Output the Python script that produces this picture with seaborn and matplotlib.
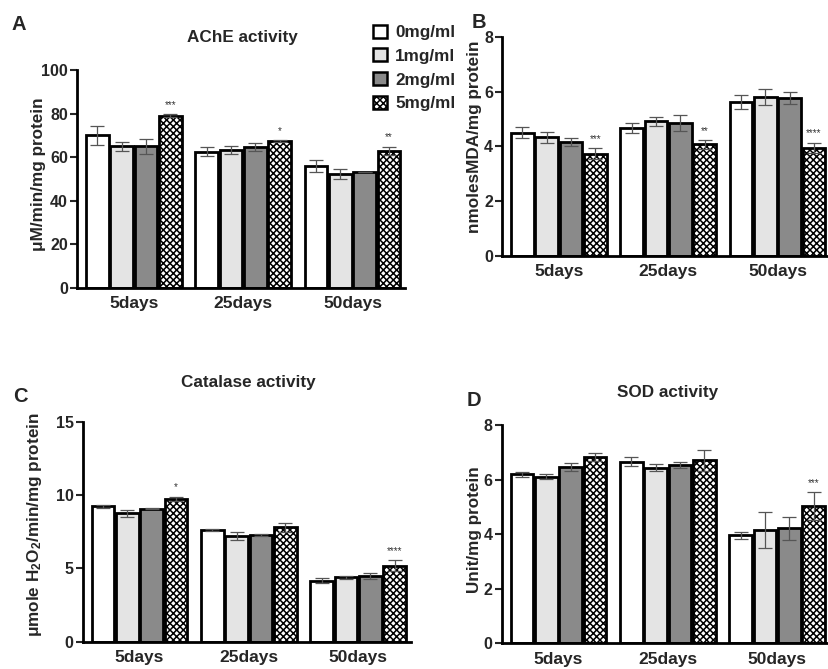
import numpy as np
import pandas as pd
import matplotlib
matplotlib.use("Agg")
import matplotlib.pyplot as plt
from matplotlib.patches import Patch
from matplotlib.container import BarContainer
import seaborn as sns

# ---------------- data ----------------
times = ["5days", "25days", "50days"]
doses = ["0mg/ml", "1mg/ml", "2mg/ml", "5mg/ml"]

# values[dose][time]
ache_mean = [[70.0, 62.6, 56.0], [65.0, 63.3, 52.3], [65.0, 64.7, 53.0], [79.0, 67.6, 63.0]]
ache_sd = [[4.5, 2.0, 2.8], [2.0, 2.0, 2.5], [3.4, 2.0, 0.0], [0.7, 0.4, 1.8]]
ache_sig = ["***", "*", "**"]

mda_mean = [[4.50, 4.67, 5.63], [4.33, 4.92, 5.80], [4.16, 4.85, 5.75], [3.73, 4.07, 3.94]]
mda_sd = [[0.20, 0.20, 0.25], [0.20, 0.16, 0.30], [0.15, 0.30, 0.22], [0.20, 0.16, 0.20]]
mda_sig = ["***", "**", "****"]

cat_mean = [[9.25, 7.59, 4.16], [8.75, 7.23, 4.39], [9.07, 7.27, 4.48], [9.75, 7.80, 5.18]]
cat_sd = [[0.10, 0.07, 0.15], [0.25, 0.27, 0.10], [0.05, 0.07, 0.22], [0.14, 0.30, 0.37]]
cat_sig = ["*", "", "****"]

sod_mean = [[6.20, 6.65, 3.96], [6.11, 6.43, 4.15], [6.46, 6.53, 4.21], [6.84, 6.70, 5.03]]
sod_sd = [[0.09, 0.16, 0.13], [0.08, 0.13, 0.65], [0.15, 0.12, 0.42], [0.15, 0.37, 0.51]]
sod_sig = ["", "", "***"]

ache_ticks = [0, 20, 40, 60, 80, 100]
mda_ticks = [0, 2, 4, 6, 8]
cat_ticks = [0, 5, 10, 15]
sod_ticks = [0, 2, 4, 6, 8]

# ---------------- style ----------------
sns.set_theme(style="ticks")
plt.rcParams["font.family"] = ["Liberation Sans", "DejaVu Sans"]
plt.rcParams["font.weight"] = "bold"
plt.rcParams["mathtext.fontset"] = "custom"
plt.rcParams["mathtext.rm"] = "Liberation Sans:bold"
plt.rcParams["mathtext.it"] = "Liberation Sans:bold"
plt.rcParams["mathtext.bf"] = "Liberation Sans:bold"
plt.rcParams["mathtext.default"] = "rm"
plt.rcParams["hatch.linewidth"] = 1.1

faces = ["#ffffff", "#e4e4e4", "#8a8a8a", "#ffffff"]
hatches = [None, None, None, "xxxxx"]

W, H = 829, 669
fig = plt.figure(figsize=(W / 100, H / 100), dpi=100)

LABEL_FS = 12.3


def px_axes(left, top, right, bottom):
    return fig.add_axes([left / W, 1 - bottom / H, (right - left) / W, (bottom - top) / H])


def panel(ax, mean, sd, sig, ticks, ylabel, lab_x, lab_y, title=None, title_y=1.15):
    rows = []
    for di, d in enumerate(doses):
        for ti, t in enumerate(times):
            rows.append({"time": t, "dose": d, "value": mean[di][ti]})
    df = pd.DataFrame(rows)
    sns.barplot(data=df, x="time", y="value", hue="dose", order=times, hue_order=doses,
                errorbar=None, width=0.89, gap=0.06, palette=faces, legend=False,
                edgecolor="black", linewidth=2.0, saturation=1, ax=ax, zorder=2)
    bar_conts = [c for c in ax.containers if isinstance(c, BarContainer)]
    for di, cont in enumerate(bar_conts):
        xs, ys, es = [], [], []
        for ti, bar in enumerate(cont.patches):
            bar.set_facecolor(faces[di])
            bar.set_edgecolor("black")
            if hatches[di]:
                bar.set_hatch(hatches[di])
            xs.append(bar.get_x() + bar.get_width() / 2)
            ys.append(bar.get_height())
            es.append(sd[di][ti])
        ax.errorbar(xs, ys, yerr=es, fmt="none", ecolor="#555555", elinewidth=0.9,
                    capsize=5, capthick=0.9, zorder=4)
        if di == 3:
            for ti in range(3):
                if sig[ti]:
                    ax.annotate(sig[ti], (xs[ti], ys[ti] + es[ti]), xytext=(0, 3),
                                textcoords="offset points", ha="center", va="bottom",
                                fontsize=7, fontweight="normal", color="#333333")
    ax.set_xlim(-0.52, 2.48)
    ax.set_ylim(ticks[0], ticks[-1])
    ax.set_yticks(ticks)
    ax.set_yticklabels([str(t) for t in ticks], fontsize=11.5, fontweight="bold")
    ax.set_xticks(range(3))
    ax.set_xticklabels(times, fontsize=12.5, fontweight="bold")
    ax.tick_params(axis="x", length=0, pad=6)
    ax.tick_params(axis="y", length=5, width=1.5, pad=1.5)
    ax.set_xlabel("")
    ax.set_ylabel(ylabel, fontsize=LABEL_FS, fontweight="bold")
    ax.yaxis.set_label_coords(lab_x, lab_y)
    for s in ["top", "right"]:
        ax.spines[s].set_visible(False)
    for s in ["left", "bottom"]:
        ax.spines[s].set_linewidth(2.0)
        ax.spines[s].set_color("black")
    if title:
        ax.text(0.505, title_y, title, transform=ax.transAxes, ha="center", va="center",
                fontsize=LABEL_FS, fontweight="bold")


axA = px_axes(77, 70, 405, 288)
panel(axA, ache_mean, ache_sd, ache_sig, ache_ticks, "μM/min/mg protein", -0.095, 0.52,
      "AChE activity", 1.147)

axB = px_axes(502, 36.7, 830, 256)
panel(axB, mda_mean, mda_sd, mda_sig, mda_ticks, "nmolesMDA/mg protein", -0.062, 0.545)

axC = px_axes(82.7, 421.7, 410.7, 641.7)
panel(axC, cat_mean, cat_sd, cat_sig, cat_ticks, "μmole H$_2$O$_2$/min/mg protein", -0.118, 0.53,
      "Catalase activity", 1.176)

axD = px_axes(501.7, 425, 829.7, 643.3)
panel(axD, sod_mean, sod_sd, sod_sig, sod_ticks, "Unit/mg protein", -0.06, 0.52,
      "SOD activity", 1.147)

for letter, x, y in [("A", 19, 25), ("B", 479, 23), ("C", 20, 397), ("D", 474, 400)]:
    fig.text(x / W, 1 - y / H, letter, ha="center", va="center", fontsize=14.5, fontweight="bold")

handles = [Patch(facecolor=faces[i], edgecolor="black", hatch=hatches[i], linewidth=1.8)
           for i in range(4)]
fig.legend(handles, doses, loc="center left", bbox_to_anchor=(373 / W, 1 - 68 / H),
           frameon=False, handlelength=0.8, handleheight=0.8,
           handletextpad=0.5, labelspacing=0.48, borderpad=0, borderaxespad=0,
           prop={"weight": "bold", "size": LABEL_FS})

fig.savefig("out.png", dpi=100)
